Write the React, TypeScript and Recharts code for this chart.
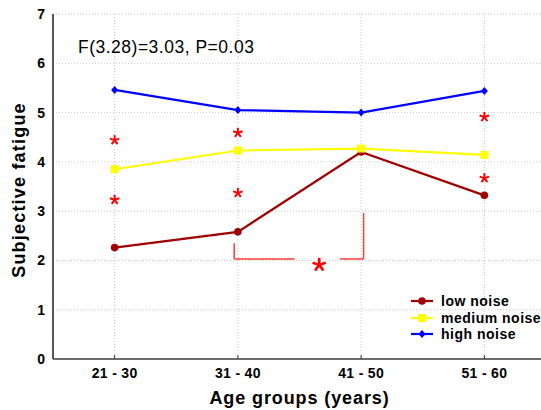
import React from 'react'
import {
  ComposedChart,
  Line,
  Scatter,
  XAxis,
  YAxis,
  CartesianGrid,
  ReferenceLine,
  Legend,
} from 'recharts'

const ageGroups = ['21 - 30', '31 - 40', '41 - 50', '51 - 60']
const lowNoise = [2.26, 2.58, 4.2, 3.32]
const mediumNoise = [3.85, 4.23, 4.27, 4.14]
const highNoise = [5.46, 5.05, 5.0, 5.44]
const yTicks = [0, 1, 2, 3, 4, 5, 6, 7]

// significance stars (x = age group position, y = fatigue level)
const starX = [1, 1, 2, 2, 4, 4, 2.66]
const starY = [4.44, 3.23, 4.59, 3.37, 4.91, 3.67, 1.91]
const starSize = [5, 5, 5, 5, 5, 5, 7]

// bracket between 31-40 and 41-50: [x1, y1, x2, y2]
const bracket = [
  [1.97, 2.35, 1.97, 2.03],
  [1.97, 2.03, 2.46, 2.03],
  [2.83, 2.03, 3.02, 2.03],
  [3.02, 2.03, 3.02, 2.96],
]

const LOW = '#a00000'
const MED = '#ffff00'
const HIGH = '#0000ff'
const FONT = '"Liberation Sans", Arial, sans-serif'

const chartData = ageGroups.map((g, i) => ({
  x: i + 1,
  group: g,
  low: lowNoise[i],
  medium: mediumNoise[i],
  high: highNoise[i],
}))

const starData = starX.map((x, i) => ({ x, y: starY[i], size: starSize[i] }))

const Star = (props: any) => {
  const { cx, cy, payload } = props
  const r = payload.size
  const angles = [-90, -18, 54, 126, 198]
  return (
    <g>
      {angles.map((a) => (
        <line
          key={a}
          x1={cx}
          y1={cy}
          x2={cx + r * Math.cos((a * Math.PI) / 180)}
          y2={cy + r * Math.sin((a * Math.PI) / 180)}
          stroke="#ff0000"
          strokeWidth={r > 6 ? 2.6 : 2}
          strokeLinecap="butt"
        />
      ))}
    </g>
  )
}

const squareDot = (p: any) => (
  <rect key={`sq-${p.index}`} x={p.cx - 4} y={p.cy - 4} width={8} height={8} fill={MED} />
)

const diamondDot = (p: any) => (
  <polygon
    key={`dm-${p.index}`}
    points={`${p.cx},${p.cy - 4} ${p.cx + 3.5},${p.cy} ${p.cx},${p.cy + 4} ${p.cx - 3.5},${p.cy}`}
    fill={HIGH}
  />
)

const legendItems = [
  { name: 'low noise', color: LOW, marker: 'circle' },
  { name: 'medium noise', color: MED, marker: 'square' },
  { name: 'high noise', color: HIGH, marker: 'diamond' },
]

const LegendBox = () => (
  <div style={{ fontFamily: FONT }}>
    {legendItems.map((it) => (
      <div key={it.name} style={{ display: 'flex', alignItems: 'center', height: 16.5 }}>
        <svg width={30} height={12}>
          <line x1={0} y1={6} x2={22} y2={6} stroke={it.color} strokeWidth={2.2} />
          {it.marker === 'circle' && <circle cx={11} cy={6} r={3.8} fill={it.color} />}
          {it.marker === 'square' && <rect x={7} y={2} width={8} height={8} fill={it.color} />}
          {it.marker === 'diamond' && <polygon points="11,2 14.5,6 11,10 7.5,6" fill={it.color} />}
        </svg>
        <span style={{ fontSize: 14, fontWeight: 'bold', letterSpacing: 0.5, color: '#000' }}>
          {it.name}
        </span>
      </div>
    ))}
  </div>
)

const YTitle = () => (
  <text
    transform="translate(25,190) rotate(-90)"
    textAnchor="middle"
    fontFamily={FONT}
    fontSize={18}
    fontWeight="bold"
    letterSpacing={1.2}
    fill="#000"
  >
    Subjective fatigue
  </text>
)

export default function App() {
  return (
    <div
      style={{
        position: 'absolute',
        left: 0,
        top: 0,
        width: 541,
        height: 410,
        overflow: 'hidden',
        background: '#fff',
      }}
    >
      <ComposedChart
        width={560}
        height={410}
        data={chartData}
        margin={{ top: 14, right: 14, bottom: 0, left: 0 }}
        style={{ fontFamily: FONT }}
      >
        <CartesianGrid stroke="#c8c8c8" strokeDasharray="1 2" />
        <XAxis
          dataKey="x"
          type="number"
          domain={[0.5, 4.5]}
          ticks={[1, 2, 3, 4]}
          interval={0}
          tickFormatter={(v: number) => ageGroups[v - 1]}
          height={51}
          axisLine={{ stroke: '#6e6e6e', strokeWidth: 2 }}
          tickLine={{ stroke: '#333' }}
          tickSize={-4}
          tickMargin={13}
          tick={{ fill: '#000', fontSize: 14, fontWeight: 'bold', letterSpacing: 0.3 }}
          label={{
            value: 'Age groups (years)',
            position: 'insideBottom',
            offset: 6,
            fill: '#000',
            fontSize: 18,
            fontWeight: 'bold',
            letterSpacing: 0.9,
          }}
        />
        <XAxis
          xAxisId="top"
          orientation="top"
          type="number"
          domain={[0.5, 4.5]}
          ticks={[1, 2, 3, 4]}
          height={0}
          tick={false}
          tickSize={-4}
          axisLine={{ stroke: '#000', strokeWidth: 1.5 }}
          tickLine={{ stroke: '#333' }}
        />
        <YAxis
          type="number"
          domain={[0, 7]}
          ticks={yTicks}
          interval={0}
          width={53}
          axisLine={{ stroke: '#222', strokeWidth: 1.5 }}
          tickLine={false}
          tick={{ fill: '#000', fontSize: 14, fontWeight: 'bold' }}
          label={<YTitle />}
        />
        <Line
          dataKey="low"
          name="low noise"
          stroke={LOW}
          strokeWidth={2.2}
          dot={{ r: 3.8, fill: LOW, stroke: LOW, strokeWidth: 0 }}
          activeDot={false}
          isAnimationActive={false}
        />
        <Line
          dataKey="medium"
          name="medium noise"
          stroke={MED}
          strokeWidth={2.2}
          dot={squareDot}
          activeDot={false}
          isAnimationActive={false}
        />
        <Line
          dataKey="high"
          name="high noise"
          stroke={HIGH}
          strokeWidth={2.2}
          dot={diamondDot}
          activeDot={false}
          isAnimationActive={false}
        />
        {bracket.map((s, i) => (
          <ReferenceLine
            key={`br-${i}`}
            segment={[
              { x: s[0], y: s[1] },
              { x: s[2], y: s[3] },
            ]}
            stroke="#ff3b3b"
            strokeWidth={1.5}
            strokeDasharray="0"
          />
        ))}
        <Scatter
          data={starData}
          dataKey="y"
          shape={Star}
          legendType="none"
          isAnimationActive={false}
        />
        <Legend
          layout="horizontal"
          verticalAlign="middle"
          align="center"
          content={() => <LegendBox />}
          wrapperStyle={{ position: 'absolute', left: 411, top: 293, width: 140 }}
        />
      </ComposedChart>
      <div
        style={{
          position: 'absolute',
          left: 78,
          top: 39,
          fontFamily: FONT,
          fontSize: 17.5,
          lineHeight: 1,
          letterSpacing: 0.5,
          color: '#000',
          whiteSpace: 'nowrap',
        }}
      >
        F(3.28)=3.03, P=0.03
      </div>
    </div>
  )
}
